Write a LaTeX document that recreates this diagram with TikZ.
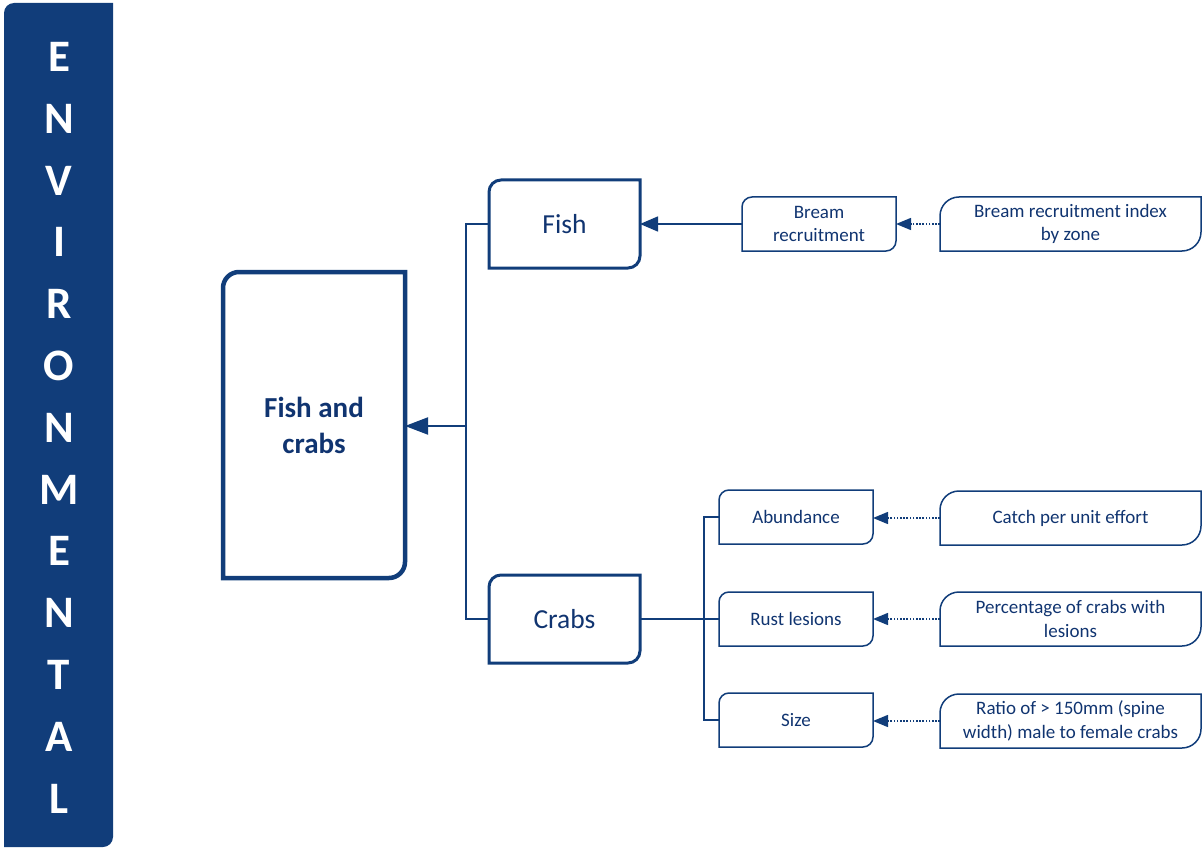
\documentclass[tikz,border=0pt]{standalone}
\usepackage{fontspec}
\setmainfont{Carlito}
\usetikzlibrary{arrows.meta}
\definecolor{deepblue}{RGB}{17,61,122}
\definecolor{inkblue}{RGB}{16,52,112}
\tikzset{
  anchorbox/.style={rectangle, draw=none, outer sep=0pt, inner sep=0pt, align=center, text=inkblue},
  bigbox/.style={anchorbox, font=\fontsize{27.5}{33}\selectfont},
  smallbox/.style={anchorbox, font=\fontsize{19}{23.5}\selectfont},
  link/.style={draw=deepblue, line width=2pt},
  sublink/.style={draw=deepblue, line width=1.5pt},
  feed/.style={draw=deepblue, line width=1.5pt, dash pattern=on 1.6pt off 1.6pt},
  bigtip/.style={-{Triangle[length=23pt,width=17pt]}},
  midtip/.style={-{Triangle[length=18pt,width=15pt]}},
  smalltip/.style={-{Triangle[length=15pt,width=12pt]}},
  barletter/.style={text=white, font=\fontsize{45}{45}\selectfont\bfseries}
}
% outline with rounded top-left and bottom-right corners
\newcommand\cornerframe[3]{%
  \draw[draw=deepblue, line width=#2] (#1.west)
    [rounded corners=#3] |- (#1.north)
    [sharp corners] -| (#1.east)
    [rounded corners=#3] |- (#1.south)
    [sharp corners] -| (#1.west) -- cycle;}
\begin{document}
\begin{tikzpicture}[x=1pt,y=-1pt]
\useasboundingbox (0,0) rectangle (1203,848);

% side banner
\node[anchorbox, minimum width=109pt, minimum height=844pt] (bar) at (58.5,425) {};
\fill[deepblue] (bar.west)
    [rounded corners=10pt] |- (bar.north)
    [sharp corners] -| (bar.east)
    [rounded corners=10pt] |- (bar.south)
    [sharp corners] -| (bar.west) -- cycle;
\foreach \ch [count=\i from 0] in {E,N,V,I,R,O,N,M,E,N,T,A,L}
  \node[barletter] (letter\i) at (59,57+61.8*\i) {\ch};

% central topic
\node[anchorbox, minimum width=182pt, minimum height=306pt,
      font=\fontsize{29}{36}\selectfont\bfseries] (main) at (314,425) {Fish and\\crabs};
\cornerframe{main}{4.5pt}{16pt}

% groups
\node[bigbox, minimum width=151pt, minimum height=88pt] (fish) at (564.5,224) {Fish};
\cornerframe{fish}{3pt}{12pt}
\node[bigbox, minimum width=151pt, minimum height=88pt] (crabs) at (564.5,619) {Crabs};
\cornerframe{crabs}{3pt}{12pt}

% indicators
\node[smallbox, minimum width=154pt, minimum height=54pt] (bream) at (819,224) {Bream\\recruitment};
\cornerframe{bream}{1.5pt}{10pt}
\node[smallbox, minimum width=154pt, minimum height=54pt] (abund) at (796,517) {Abundance};
\cornerframe{abund}{1.5pt}{10pt}
\node[smallbox, minimum width=154pt, minimum height=54pt] (rust) at (796,619) {Rust lesions};
\cornerframe{rust}{1.5pt}{10pt}
\node[smallbox, minimum width=154pt, minimum height=54pt] (size) at (796,720) {Size};
\cornerframe{size}{1.5pt}{10pt}

% measures
\node[smallbox, minimum width=261pt, minimum height=54pt] (breamidx) at (1070.5,224) {Bream recruitment index\\by zone};
\cornerframe{breamidx}{1.5pt}{19pt}
\node[smallbox, minimum width=261pt, minimum height=54pt] (cpue) at (1070.5,518) {Catch per unit effort};
\cornerframe{cpue}{1.5pt}{19pt}
\node[smallbox, minimum width=261pt, minimum height=54pt] (pct) at (1070.5,619) {Percentage of crabs with\\lesions};
\cornerframe{pct}{1.5pt}{19pt}
\node[smallbox, minimum width=261pt, minimum height=54pt] (ratio) at (1070.5,721) {Ratio of > 150mm (spine\\width) male to female crabs};
\cornerframe{ratio}{1.5pt}{19pt}

% connectors
\coordinate (trunk) at (466,426);
\coordinate (branch) at (704,619);
\draw[link] (fish.west) -| (trunk) |- (crabs.west);
\draw[link, bigtip] (trunk) -- (main.east |- trunk);
\draw[sublink, midtip] (bream.west) -- (fish.east);
\draw[sublink] (crabs.east) -- (branch);
\draw[sublink] (abund.west) -| (branch) |- (size.west);
\draw[sublink] (rust.west) -- (branch);
\draw[feed, smalltip] (breamidx.west) -- (bream.east);
\draw[feed, smalltip] (cpue.west) -- (abund.east |- cpue.west);
\draw[feed, smalltip] (pct.west) -- (rust.east);
\draw[feed, smalltip] (ratio.west) -- (size.east |- ratio.west);
\end{tikzpicture}
\end{document}
